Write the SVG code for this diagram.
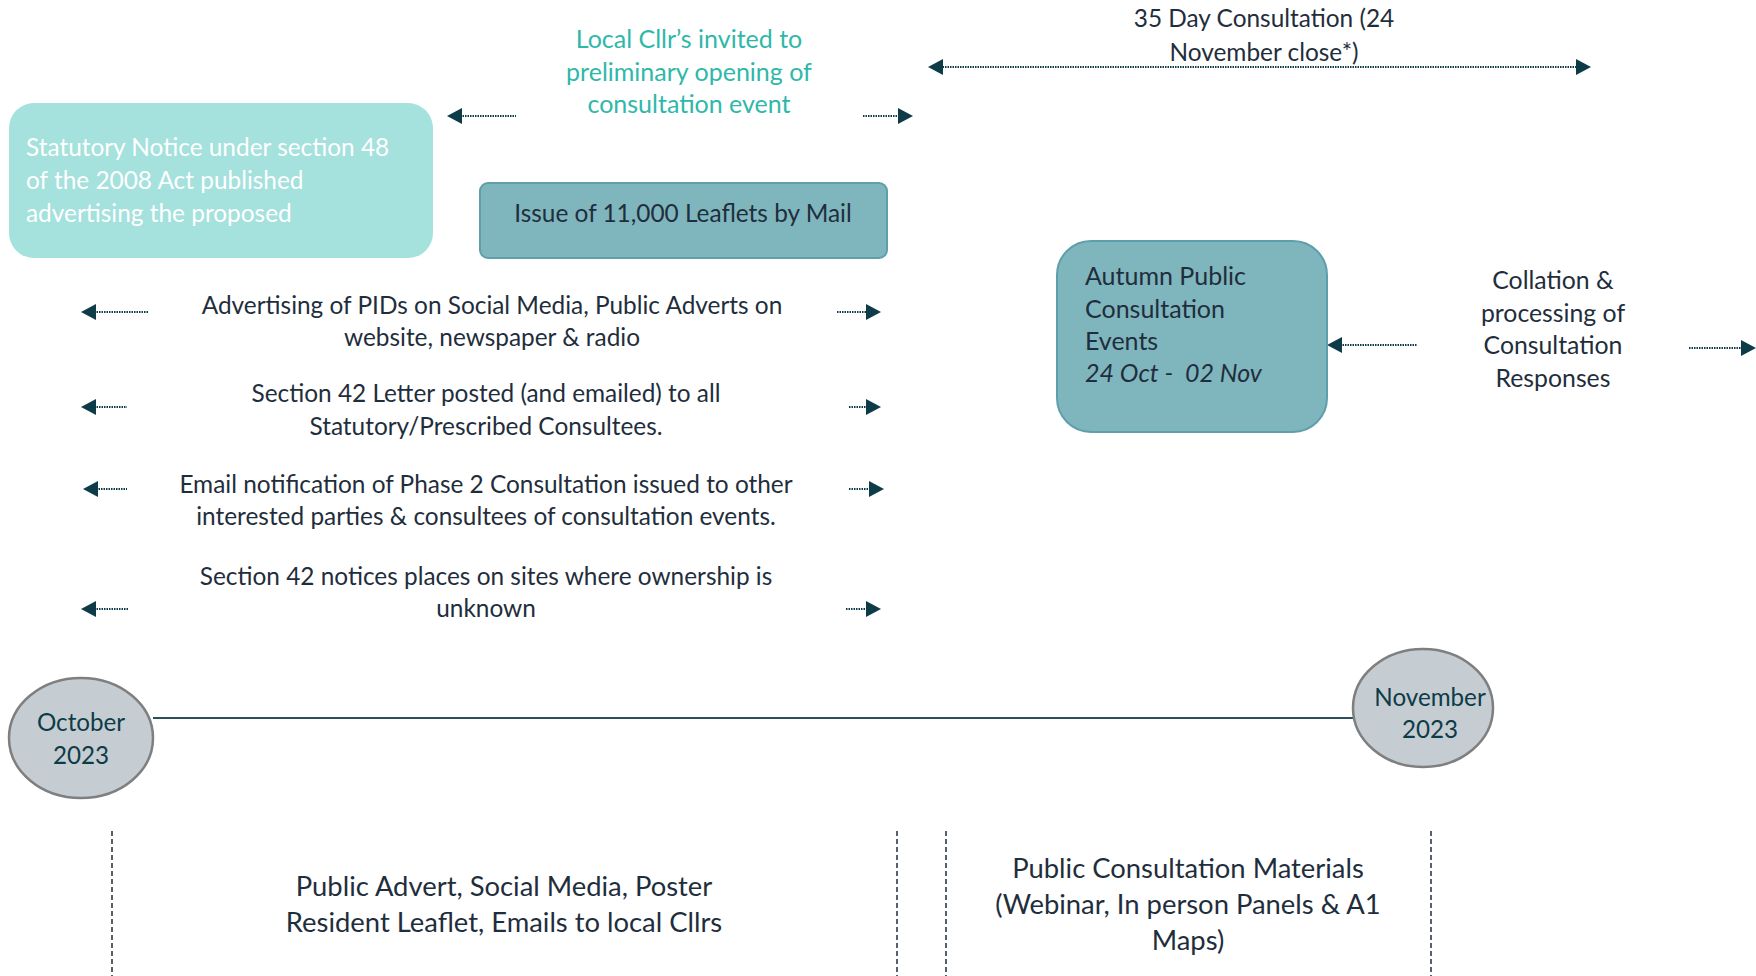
<svg xmlns="http://www.w3.org/2000/svg" width="1756" height="976" viewBox="0 0 1756 976">
<style>
.t{font-family:Lato,"Open Sans","Liberation Sans",sans-serif;fill:#1f2e3c;font-size:24.4px}
.c{text-anchor:middle}
.w{fill:#ffffff;font-size:24.4px}
.g{fill:#2fb8aa;font-size:25px}
.m{fill:#0d3c48;font-size:24.2px}
.b{font-size:27.4px}
.d{stroke:#0d3c48;stroke-width:2;stroke-dasharray:1.5 1;fill:none}
.v{stroke:#1f2e3c;stroke-width:1.5;stroke-dasharray:5 3;fill:none}
.ov{fill:#c5cdd2;stroke:#7f7f7f;stroke-width:2.5}
</style>
<defs>
<path id="tri" d="M0,0 L-15,-8 L-15,8 z" fill="#0d3c48"/>
</defs>
<rect width="1756" height="976" fill="#ffffff"/>

<g id="connectors">
<line x1="153" y1="718" x2="1353" y2="718" stroke="#2d4f5c" stroke-width="2"/>
<line class="d" x1="460" y1="116" x2="516" y2="116"/><use href="#tri" transform="translate(447,116) rotate(180)"/>
<line class="d" x1="863" y1="116" x2="900" y2="116"/><use href="#tri" transform="translate(913,116)"/>
<line class="d" x1="940" y1="67" x2="1578" y2="67"/><use href="#tri" transform="translate(928,67) rotate(180)"/><use href="#tri" transform="translate(1591,67)"/>
<line class="d" x1="94" y1="312" x2="148" y2="312"/><use href="#tri" transform="translate(81,312) rotate(180)"/>
<line class="d" x1="837" y1="312" x2="868" y2="312"/><use href="#tri" transform="translate(881,312)"/>
<line class="d" x1="94" y1="407" x2="127" y2="407"/><use href="#tri" transform="translate(81,407) rotate(180)"/>
<line class="d" x1="849" y1="407" x2="868" y2="407"/><use href="#tri" transform="translate(881,407)"/>
<line class="d" x1="96" y1="489" x2="127" y2="489"/><use href="#tri" transform="translate(83,489) rotate(180)"/>
<line class="d" x1="849" y1="489" x2="871" y2="489"/><use href="#tri" transform="translate(884,489)"/>
<line class="d" x1="94" y1="609" x2="129" y2="609"/><use href="#tri" transform="translate(81,609) rotate(180)"/>
<line class="d" x1="846" y1="609" x2="868" y2="609"/><use href="#tri" transform="translate(881,609)"/>
<line class="d" x1="1340" y1="345" x2="1417" y2="345"/><use href="#tri" transform="translate(1327,345) rotate(180)"/>
<line class="d" x1="1689" y1="348" x2="1742" y2="348"/><use href="#tri" transform="translate(1756,348)"/>
<line class="v" x1="112" y1="831" x2="112" y2="976"/>
<line class="v" x1="897" y1="831" x2="897" y2="976"/>
<line class="v" x1="946" y1="831" x2="946" y2="976"/>
<line class="v" x1="1431" y1="831" x2="1431" y2="976"/>
</g>

<g id="statutory">
<rect x="9" y="103" width="424" height="155" rx="25" fill="#a5e1dd"/>
<text class="t w" x="26" y="156">Statutory Notice under section 48</text>
<text class="t w" x="26" y="189">of the 2008 Act published</text>
<text class="t w" x="26" y="222">advertising the proposed</text>
</g>

<g id="cllr">
<text class="t g c" x="689" y="48">Local Cllr’s invited to</text>
<text class="t g c" x="689" y="81">preliminary opening of</text>
<text class="t g c" x="689" y="113">consultation event</text>
</g>

<g id="leaflets">
<rect x="480" y="183" width="407" height="75" rx="8" fill="#7fb5bd" stroke="#5e9fab" stroke-width="2"/>
<text class="t c" x="683" y="222">Issue of 11,000 Leaflets by Mail</text>
</g>

<g id="consultation35">
<text class="t c" x="1264" y="27">35 Day Consultation (24</text>
<text class="t c" x="1264" y="61">November close*)</text>
</g>

<g id="autumn">
<rect x="1057" y="241" width="270" height="191" rx="34" fill="#7fb5bd" stroke="#5e9fab" stroke-width="2"/>
<text class="t" x="1085" y="285" style="font-size:25px">Autumn Public</text>
<text class="t" x="1085" y="318" style="font-size:25px">Consultation</text>
<text class="t" x="1085" y="350" style="font-size:25px">Events</text>
<text class="t" x="1085" y="382" style="font-size:25px;white-space:pre" font-style="italic">24 Oct -  02 Nov</text>
</g>

<g id="collation">
<text class="t c" x="1553" y="289" style="font-size:24.8px">Collation &amp;</text>
<text class="t c" x="1553" y="322" style="font-size:24.8px">processing of</text>
<text class="t c" x="1553" y="354" style="font-size:24.8px">Consultation</text>
<text class="t c" x="1553" y="387" style="font-size:24.8px">Responses</text>
</g>

<g id="row1">
<text class="t c" x="492" y="314">Advertising of PIDs on Social Media, Public Adverts on</text>
<text class="t c" x="492" y="346">website, newspaper &amp; radio</text>
</g>
<g id="row2">
<text class="t c" x="486" y="402">Section 42 Letter posted (and emailed) to all</text>
<text class="t c" x="486" y="435">Statutory/Prescribed Consultees.</text>
</g>
<g id="row3">
<text class="t c" x="486" y="493">Email notification of Phase 2 Consultation issued to other</text>
<text class="t c" x="486" y="525">interested parties &amp; consultees of consultation events.</text>
</g>
<g id="row4">
<text class="t c" x="486" y="585">Section 42 notices places on sites where ownership is</text>
<text class="t c" x="486" y="617">unknown</text>
</g>

<g id="october">
<ellipse class="ov" cx="81" cy="738" rx="72" ry="60"/>
<text class="t m c" x="81" y="731">October</text>
<text class="t m c" x="81" y="764">2023</text>
</g>

<g id="november">
<ellipse class="ov" cx="1423" cy="708" rx="70" ry="59"/>
<text class="t m c" x="1430" y="706">November</text>
<text class="t m c" x="1430" y="738">2023</text>
</g>

<g id="materials-left">
<text class="t b c" x="504" y="896">Public Advert, Social Media, Poster</text>
<text class="t b c" x="504" y="932">Resident Leaflet, Emails to local Cllrs</text>
</g>

<g id="materials-right">
<text class="t b c" x="1188" y="878">Public Consultation Materials</text>
<text class="t b c" x="1188" y="914">(Webinar, In person Panels &amp; A1</text>
<text class="t b c" x="1188" y="950">Maps)</text>
</g>
</svg>
